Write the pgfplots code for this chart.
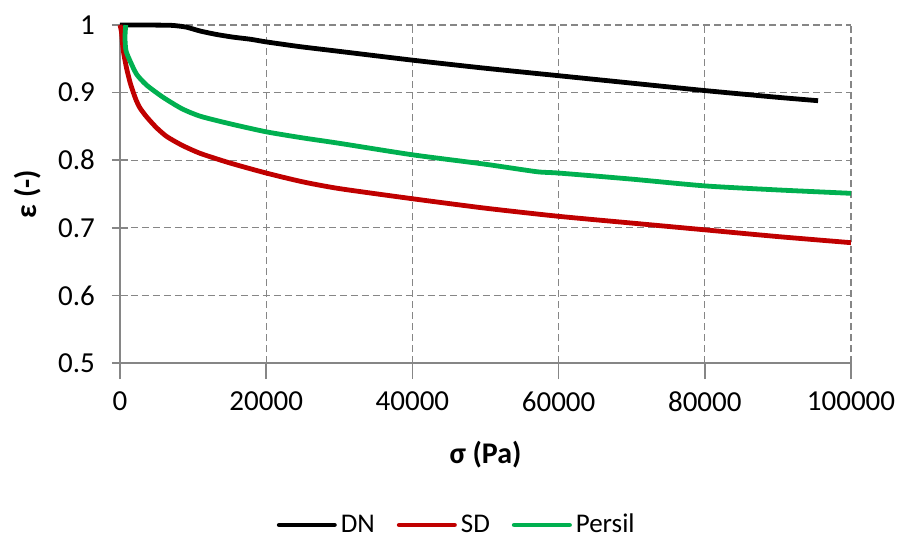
\documentclass[border=0pt]{standalone}
\usepackage{pgfplots}
\pgfplotsset{compat=1.18}
\usepackage{fontspec}
\setmainfont{Carlito}
\definecolor{sdred}{RGB}{192,0,0}
\definecolor{pgreen}{RGB}{0,176,80}
\definecolor{gridgray}{RGB}{134,134,134}
\begin{document}
\begin{tikzpicture}
\useasboundingbox (-60pt,-89pt) rectangle (390.5pt,181.5pt);
\begin{axis}[
  at={(0,0)}, anchor=south west,
  scale only axis, width=365.5pt, height=169pt,
  xmin=0, xmax=100000, ymin=0.5, ymax=1,
  axis x line=bottom, axis y line=left,
  axis line style={-, draw=gridgray, line width=0.8pt},
  xtick={0,20000,40000,60000,80000,100000},
  ytick={0.5,0.6,0.7,0.8,0.9,1},
  scaled x ticks=false,
  /pgf/number format/assume math mode=true,
  xticklabel style={/pgf/number format/set thousands separator={}, /pgf/number format/fixed},
  yticklabel style={/pgf/number format/fixed, /pgf/number format/precision=1},
  tick label style={font=\fontsize{14.5}{16}\selectfont, text=black},
  grid=major,
  grid style={dashed, draw=gridgray, line width=0.6pt, dash pattern=on 3.5pt off 2pt},
  x tick style={draw=gridgray, line width=0.8pt},
  y tick style={draw=gridgray, line width=0.8pt},
  xtick align=outside, ytick align=center,
  major tick length=8pt,
  xlabel={\textbf{σ (Pa)}},
  ylabel={\textbf{ε (-)}},
  label style={font=\fontsize{15}{18}\selectfont},
  xlabel style={at={(axis description cs:0.5,-0.272)}, anchor=center},
  ylabel style={at={(axis description cs:-0.127,0.5)}, anchor=center, rotate=0},
  xticklabel style={yshift=-3pt},
  yticklabel style={xshift=-5pt},
  legend style={at={(axis description cs:0.462,-0.479)}, anchor=center, draw=none,
    legend columns=3, font=\fontsize{13.5}{16}\selectfont,
    /tikz/every even column/.append style={column sep=9pt}},
  legend image code/.code={\draw[#1, line cap=round] (0cm,0cm) -- (0.97cm,0cm);},
  clip=false,
]
\addplot[black, line width=2.4pt, line join=round, smooth, tension=0.35] coordinates {
(0,1) (3000,1) (7000,0.9995) (9000,0.997) (11000,0.991) (13200,0.986) (15500,0.982) (17800,0.979) (20000,0.975)
(24600,0.968) (30000,0.961) (40000,0.948) (50000,0.936) (60000,0.925) (70000,0.914)
(80000,0.903) (90000,0.893) (95500,0.888)};
\addlegendentry{DN}
\addplot[sdred, line width=2.4pt, line join=round, smooth, tension=0.4] coordinates {
(0,1) (200,0.99) (450,0.962) (900,0.936) (1460,0.912) (2200,0.889) (2750,0.877)
(3650,0.864) (5000,0.848) (6400,0.835) (8500,0.822) (11000,0.81) (15000,0.796)
(20000,0.781) (25000,0.768) (30000,0.758) (40000,0.743) (50000,0.729) (60000,0.717)
(70000,0.707) (80000,0.697) (90000,0.687) (100000,0.678)};
\addlegendentry{SD}
\addplot[pgreen, line width=2.4pt, line join=round, smooth, tension=0.4] coordinates {
(780,1.0) (680,0.981) (820,0.962) (1370,0.947) (2280,0.927) (3650,0.911) (5900,0.893)
(8500,0.876) (11000,0.865) (15000,0.854) (20000,0.842) (25000,0.833) (30000,0.825)
(40000,0.808) (50000,0.794) (57000,0.783) (60000,0.781) (70000,0.772) (80000,0.762)
(90000,0.756) (100000,0.751)};
\addlegendentry{Persil}
\end{axis}
\end{tikzpicture}
\end{document}
